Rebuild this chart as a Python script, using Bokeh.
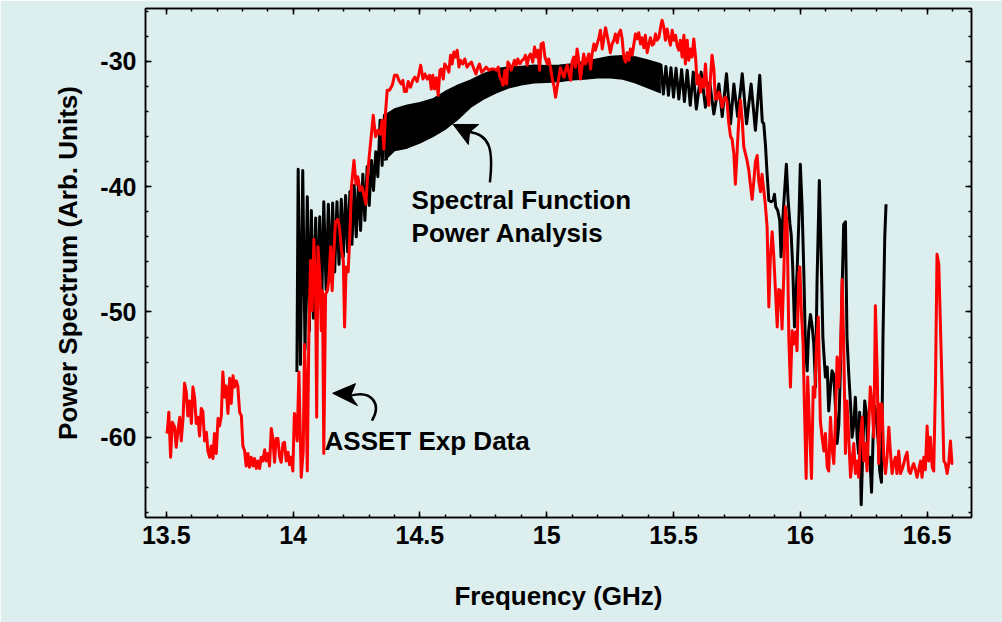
from bokeh.plotting import figure
from bokeh.models import LinearAxis, FixedTicker, Range1d
from bokeh.embed import file_html
from bokeh.resources import INLINE
from bokeh.core.properties import value

# ---------------- data ----------------
x_ticks = [13.5, 14.0, 14.5, 15.0, 15.5, 16.0, 16.5]
x_tick_labels = ["13.5", "14", "14.5", "15", "15.5", "16", "16.5"]
x_minor = [round(13.5 + 0.1 * i, 1) for i in range(32)]
y_ticks = [-60, -50, -40, -30]
y_tick_labels = ["-60", "-50", "-40", "-30"]
y_minor = list(range(-66, -25, 2))

# ASSET experimental data (red)
red_freq = [
    13.500, 13.504, 13.510, 13.517, 13.524, 13.533, 13.539, 13.546, 13.553, 13.559,
    13.566, 13.572, 13.579, 13.585, 13.592, 13.599, 13.605, 13.612, 13.618, 13.625,
    13.631, 13.638, 13.644, 13.651, 13.658, 13.664, 13.671, 13.677, 13.684, 13.690,
    13.697, 13.704, 13.710, 13.717, 13.723, 13.730, 13.736, 13.743, 13.750, 13.756,
    13.763, 13.769, 13.776, 13.782, 13.789, 13.796, 13.802, 13.809, 13.815, 13.822,
    13.828, 13.835, 13.842, 13.848, 13.855, 13.861, 13.868, 13.874, 13.881, 13.888,
    13.894, 13.901, 13.907, 13.914, 13.920, 13.927, 13.933, 13.940, 13.947, 13.953,
    13.960, 13.966, 13.973, 13.980, 13.986, 13.993, 13.999, 14.005, 14.011, 14.016,
    14.023, 14.032, 14.040, 14.045, 14.050, 14.056, 14.062, 14.069, 14.075, 14.082,
    14.089, 14.093, 14.098, 14.106, 14.111, 14.116, 14.121, 14.128, 14.135, 14.141,
    14.148, 14.154, 14.161, 14.167, 14.177, 14.184, 14.191, 14.198, 14.203, 14.209,
    14.217, 14.224, 14.230, 14.240, 14.248, 14.255, 14.263, 14.271, 14.279, 14.287,
    14.295, 14.305, 14.316, 14.325, 14.334, 14.343, 14.351, 14.358, 14.364, 14.371,
    14.380, 14.391, 14.400, 14.410, 14.417, 14.426, 14.433, 14.439, 14.447, 14.454,
    14.463, 14.472, 14.480, 14.489, 14.496, 14.503, 14.512, 14.520, 14.529, 14.538,
    14.545, 14.551, 14.558, 14.565, 14.572, 14.579, 14.585, 14.592, 14.598, 14.608,
    14.614, 14.621, 14.627, 14.634, 14.640, 14.647, 14.654, 14.660, 14.669, 14.677,
    14.686, 14.695, 14.703, 14.713, 14.721, 14.729, 14.735, 14.743, 14.752, 14.761,
    14.772, 14.781, 14.792, 14.802, 14.809, 14.815, 14.822, 14.828, 14.835, 14.842,
    14.847, 14.855, 14.860, 14.867, 14.873, 14.880, 14.886, 14.894, 14.903, 14.910,
    14.916, 14.923, 14.929, 14.936, 14.945, 14.952, 14.959, 14.965, 14.972, 14.978,
    14.986, 14.993, 15.002, 15.008, 15.015, 15.022, 15.028, 15.035, 15.041, 15.048,
    15.054, 15.061, 15.068, 15.074, 15.081, 15.087, 15.094, 15.100, 15.107, 15.113,
    15.120, 15.126, 15.133, 15.140, 15.146, 15.153, 15.159, 15.166, 15.173, 15.179,
    15.186, 15.192, 15.199, 15.205, 15.212, 15.219, 15.225, 15.232, 15.238, 15.245,
    15.251, 15.258, 15.265, 15.271, 15.278, 15.284, 15.291, 15.297, 15.304, 15.311,
    15.317, 15.324, 15.330, 15.337, 15.343, 15.350, 15.357, 15.363, 15.370, 15.376,
    15.383, 15.389, 15.396, 15.403, 15.409, 15.416, 15.422, 15.429, 15.435, 15.442,
    15.449, 15.455, 15.462, 15.468, 15.475, 15.481, 15.488, 15.495, 15.501, 15.508,
    15.514, 15.521, 15.527, 15.534, 15.541, 15.547, 15.554, 15.560, 15.567, 15.573,
    15.580, 15.587, 15.593, 15.600, 15.606, 15.613, 15.619, 15.626, 15.633, 15.639,
    15.646, 15.652, 15.659, 15.665, 15.672, 15.679, 15.685, 15.692, 15.698, 15.705,
    15.711, 15.718, 15.725, 15.731, 15.738, 15.744, 15.751, 15.757, 15.764, 15.771,
    15.777, 15.784, 15.790, 15.797, 15.803, 15.810, 15.817, 15.823, 15.830, 15.836,
    15.843, 15.849, 15.856, 15.862, 15.869, 15.876, 15.882, 15.889, 15.895, 15.902,
    15.909, 15.915, 15.922, 15.928, 15.935, 15.941, 15.948, 15.955, 15.961, 15.968,
    15.974, 15.981, 15.987, 15.994, 15.998, 16.004, 16.011, 16.016, 16.023, 16.029,
    16.037, 16.044, 16.051, 16.057, 16.064, 16.071, 16.079, 16.086, 16.093, 16.099,
    16.106, 16.112, 16.119, 16.125, 16.132, 16.138, 16.145, 16.152, 16.158, 16.165,
    16.171, 16.178, 16.184, 16.191, 16.198, 16.204, 16.211, 16.217, 16.224, 16.230,
    16.237, 16.244, 16.250, 16.257, 16.263, 16.270, 16.276, 16.283, 16.290, 16.296,
    16.303, 16.309, 16.316, 16.322, 16.329, 16.336, 16.342, 16.349, 16.355, 16.362,
    16.368, 16.375, 16.381, 16.388, 16.395, 16.401, 16.408, 16.414, 16.421, 16.428,
    16.434, 16.441, 16.447, 16.454, 16.460, 16.467, 16.474, 16.480, 16.487, 16.493,
    16.500, 16.506, 16.513, 16.520, 16.526, 16.533, 16.539, 16.546, 16.552, 16.559,
    16.566, 16.572, 16.579, 16.585, 16.592, 16.598, 16.602,
]
red_db = [
    -59.5, -59.6, -58.0, -61.6, -58.8, -59.2, -60.8, -59.5, -58.4, -60.3,
    -58.5, -55.7, -56.4, -58.3, -57.1, -58.9, -56.0, -56.9, -58.9, -58.4,
    -59.9, -57.7, -57.9, -60.3, -59.6, -61.1, -61.6, -60.7, -61.7, -59.7,
    -61.3, -58.5, -59.1, -58.3, -54.8, -56.8, -55.9, -58.1, -55.3, -57.3,
    -55.1, -56.0, -55.5, -55.9, -58.0, -58.3, -60.7, -61.1, -62.3, -61.3,
    -62.4, -61.6, -62.3, -61.7, -62.5, -61.9, -62.5, -61.6, -61.9, -61.0,
    -61.9, -61.3, -62.3, -59.3, -60.1, -62.0, -60.1, -60.1, -61.6, -62.0,
    -60.5, -60.4, -61.9, -61.2, -62.2, -61.6, -62.7, -58.1, -58.6, -60.3,
    -54.8, -63.2, -61.1, -52.6, -55.7, -62.7, -52.0, -45.9, -49.9, -44.2,
    -48.8, -58.4, -44.8, -47.2, -51.5, -48.3, -61.3, -48.6, -48.3, -47.5,
    -44.8, -48.3, -45.1, -42.8, -42.6, -43.5, -45.1, -45.9, -51.2, -46.4,
    -46.8, -43.8, -40.0, -37.9, -39.8, -39.2, -40.3, -40.0, -40.6, -41.4,
    -38.7, -36.6, -34.3, -36.0, -35.5, -35.8, -34.7, -37.0, -34.2, -32.3,
    -32.3, -31.9, -31.1, -31.1, -31.5, -31.8, -31.5, -32.4, -32.4, -31.6,
    -32.05, -31.5, -31.25, -31.6, -31.0, -30.3, -31.4, -31.0, -31.4, -31.1,
    -32.2, -31.1, -32.2, -31.3, -32.7, -30.7, -30.6, -31.4, -30.2, -30.5,
    -30.85, -29.5, -30.2, -29.25, -29.65, -29.1, -30.45, -29.9, -30.2, -29.8,
    -30.45, -30.2, -30.05, -30.6, -31.0, -30.45, -30.2, -30.85, -30.7, -30.45,
    -30.7, -30.6, -30.6, -30.7, -30.45, -31.25, -31.5, -31.9, -30.7, -31.8,
    -30.05, -30.3, -30.7, -30.3, -29.9, -30.3, -29.8, -30.2, -29.9, -29.8,
    -29.5, -30.3, -29.65, -29.4, -30.05, -28.85, -29.65, -29.1, -30.7, -28.6,
    -28.5, -29.65, -30.2, -29.8, -30.5, -31.4, -31.9, -32.85, -32.05, -31.25,
    -30.5, -30.9, -31.25, -30.7, -30.3, -30.9, -31.5, -30.05, -29.65, -30.45,
    -29.0, -29.9, -31.4, -30.3, -29.4, -30.2, -29.9, -29.4, -30.6, -29.4,
    -28.6, -29.1, -28.6, -28.2, -27.5, -29.0, -28.2, -27.3, -27.9, -28.6,
    -29.3, -28.6, -28.3, -27.8, -28.5, -27.8, -27.5, -28.1, -29.65, -30.05,
    -29.3, -29.9, -29.0, -29.5, -28.7, -27.8, -28.2, -27.7, -28.6, -28.1,
    -28.9, -27.9, -29.3, -28.6, -28.1, -28.7, -28.6, -27.8, -28.3, -28.1,
    -27.3, -26.7, -27.3, -28.3, -27.4, -28.1, -28.7, -27.5, -28.3, -27.9,
    -28.7, -29.1, -28.3, -29.65, -27.9, -30.2, -28.3, -29.9, -29.0, -29.65,
    -28.2, -29.65, -31.8, -31.1, -32.45, -31.4, -32.05, -30.2, -32.45, -33.5,
    -31.2, -29.5, -30.6, -33.0, -33.0, -32.45, -32.85, -33.65, -33.0, -32.85,
    -33.2, -34.95, -36.0, -36.2, -37.4, -39.8, -37.1, -34.8, -33.1, -34.7,
    -36.8, -37.4, -37.9, -38.7, -39.8, -41.0, -39.5, -38.0, -37.5, -39.5,
    -40.4, -39.0, -40.3, -41.4, -43.2, -49.6, -45.6, -43.6, -45.4, -48.3,
    -51.2, -48.2, -48.3, -51.35, -46.96, -41.6, -43.0, -52.3, -56.0, -51.5,
    -52.55, -51.6, -53.1, -46.96, -46.4, -49.9, -52.55, -57.35, -63.3, -55.2,
    -59.5, -63.3, -56.0, -56.8, -52.55, -50.4, -58.7, -60.0, -61.1, -59.7,
    -62.4, -62.7, -58.4, -60.8, -62.1, -58.95, -53.6, -56.0, -53.6, -47.4,
    -52.55, -61.3, -57.1, -60.0, -63.2, -61.9, -60.5, -62.9, -61.9, -63.2,
    -60.0, -58.4, -61.9, -60.5, -62.7, -58.95, -56.0, -57.35, -60.0, -49.5,
    -54.7, -62.1, -57.35, -57.35, -61.6, -62.9, -61.6, -59.2, -61.1, -62.9,
    -62.1, -61.6, -62.9, -61.1, -62.9, -62.6, -62.1, -61.6, -61.2, -62.7,
    -62.9, -62.4, -62.1, -62.6, -63.2, -62.6, -61.9, -63.2, -61.6, -62.6,
    -59.1, -61.9, -60.0, -62.4, -62.7, -55.75, -45.4, -46.2, -50.7, -56.0,
    -61.9, -62.1, -62.9, -62.1, -60.3, -62.1, -62.1,
]

# Spectral function power analysis (black): resolved oscillation, low side
blk_lo_freq = [
    14.015, 14.020, 14.029, 14.038, 14.047, 14.056, 14.064, 14.072, 14.080, 14.089,
    14.097, 14.105, 14.113, 14.121, 14.130, 14.139, 14.147, 14.156, 14.164, 14.173,
    14.181, 14.190, 14.198, 14.207, 14.215, 14.224, 14.232, 14.241, 14.249, 14.258,
    14.266, 14.275, 14.283, 14.292, 14.300, 14.309, 14.317, 14.326, 14.334, 14.343,
    14.351, 14.360, 14.368,
]
blk_lo_db = [
    -54.8, -38.6, -54.2, -38.7, -53.0, -40.8, -51.5, -41.9, -50.5, -42.5,
    -49.8, -42.4, -49.0, -41.2, -48.2, -41.4, -47.5, -41.3, -46.8, -41.2,
    -46.2, -41.0, -45.6, -40.7, -45.2, -40.4, -44.6, -39.9, -44.0, -39.5,
    -43.5, -39.0, -42.7, -38.4, -41.5, -37.9, -40.3, -37.2, -39.2, -34.7,
    -38.3, -34.3, -37.9,
]
# unresolved (dense) oscillation band: envelope
band_freq = [14.36, 14.40, 14.45, 14.50, 14.55, 14.60, 14.65, 14.70, 14.75, 14.80,
             14.85, 14.90, 14.95, 15.00, 15.05, 15.10, 15.15, 15.20, 15.25, 15.30,
             15.35, 15.40, 15.45]
band_upper = [-34.3, -33.8, -33.5, -33.3, -33.0, -32.4, -31.9, -31.5, -31.0, -30.6,
              -30.45, -30.4, -30.3, -30.35, -30.3, -30.2, -30.0, -29.8, -29.6, -29.55,
              -29.65, -29.9, -30.2]
band_lower = [-37.9, -37.1, -36.9, -36.5, -36.0, -35.4, -34.6, -33.65, -33.0, -32.5,
              -32.1, -31.85, -31.7, -31.65, -31.6, -31.45, -31.4, -31.3, -31.3, -31.4,
              -31.7, -32.1, -32.5]
# resolved oscillation, high side
blk_hi_freq = [
    15.450, 15.460, 15.470, 15.480, 15.490, 15.500, 15.510, 15.521, 15.532, 15.543,
    15.554, 15.566, 15.578, 15.590, 15.609, 15.626, 15.643, 15.659, 15.679, 15.692,
    15.709, 15.725, 15.738, 15.753, 15.771, 15.788, 15.806, 15.823, 15.840, 15.850,
    15.856, 15.863, 15.869, 15.876, 15.885, 15.893, 15.898, 15.903, 15.911, 15.919,
    15.924, 15.932, 15.945, 15.952, 15.959, 15.964, 15.970, 15.977, 15.987, 15.995,
    16.000, 16.007, 16.014, 16.020, 16.027, 16.033, 16.040, 16.047, 16.053, 16.060,
    16.066, 16.075, 16.082, 16.089, 16.093, 16.099, 16.106, 16.112, 16.119, 16.125,
    16.132, 16.138, 16.145, 16.152, 16.158, 16.165, 16.171, 16.178, 16.184, 16.191,
    16.198, 16.204, 16.211, 16.217, 16.224, 16.230, 16.234, 16.240, 16.248, 16.254,
    16.261, 16.267, 16.274, 16.281, 16.287, 16.293, 16.300, 16.307, 16.313, 16.320,
    16.326, 16.333, 16.338,
]
blk_hi_db = [
    -30.2, -32.6, -30.4, -32.7, -30.5, -32.85, -30.55, -33.0, -30.65, -33.2,
    -30.7, -33.5, -30.85, -33.8, -30.85, -33.65, -31.65, -34.2, -31.8, -34.4,
    -30.98, -34.98, -31.8, -34.4, -30.98, -34.98, -31.8, -35.5, -31.1, -34.8,
    -34.98, -36.8, -38.97, -41.1, -41.2, -41.1, -40.6, -41.6, -41.9, -42.7,
    -45.6, -42.2, -38.2, -41.1, -42.97, -43.8, -46.4, -51.2, -46.96, -42.2,
    -38.2, -41.6, -46.96, -52.55, -54.7, -51.5, -50.2, -51.2, -52.55, -56.0,
    -47.5, -39.5, -45.4, -52.0, -53.35, -55.2, -54.4, -57.9, -56.0, -54.7,
    -55.0, -57.35, -60.5, -58.95, -54.7, -48.0, -43.0, -42.8, -52.0, -54.95,
    -57.35, -60.0, -58.95, -56.8, -60.0, -61.3, -58.0, -65.4, -60.0, -57.1,
    -58.15, -62.1, -61.6, -64.4, -60.0, -57.5, -58.4, -60.3, -62.7, -63.6,
    -52.0, -44.0, -41.4,
]

# annotations
label_spectral = ["Spectral Function", "Power Analysis"]
label_asset = "ASSET Exp Data"

# ---------------- figure ----------------
BG = "#ddeeee"
FONT = "Liberation Sans"

p = figure(width=1002, height=622, output_backend="svg", toolbar_location=None,
           x_range=Range1d(13.418, 16.675), y_range=Range1d(-66.41, -25.77),
           min_border_left=145, min_border_right=31, min_border_top=8,
           min_border_bottom=105, background_fill_color=BG, border_fill_color=BG)
p.grid.visible = False
p.outline_line_color = "black"
p.outline_line_width = 1.5

xb = p.below[0]
yl = p.left[0]
xt = LinearAxis()
yr = LinearAxis()
p.add_layout(xt, "above")
p.add_layout(yr, "right")

for ax in [xb, xt]:
    ax.ticker = FixedTicker(ticks=x_ticks, minor_ticks=x_minor)
for ax in [yl, yr]:
    ax.ticker = FixedTicker(ticks=y_ticks, minor_ticks=y_minor)
xb.major_label_overrides = {t: l for t, l in zip(x_ticks, x_tick_labels)}
yl.major_label_overrides = {t: l for t, l in zip(y_ticks, y_tick_labels)}

for ax in [xb, xt, yl, yr]:
    ax.axis_line_width = 1.5
    ax.axis_line_color = "black"
    ax.major_tick_in = 6
    ax.major_tick_out = 0
    ax.minor_tick_in = 3
    ax.minor_tick_out = 0
    ax.major_tick_line_width = 1.5
    ax.minor_tick_line_width = 1.5
    ax.major_tick_line_color = "black"
    ax.minor_tick_line_color = "black"
    ax.major_label_text_font = FONT
    ax.major_label_text_font_style = "bold"
    ax.major_label_text_font_size = "25px"
    ax.major_label_text_color = "black"

# mirrored axes: ticks only
for ax in [xt, yr]:
    ax.major_label_text_color = None
    ax.major_label_text_font_size = "1px"
    ax.major_label_standoff = 0

xb.major_label_standoff = 8
xb.axis_label = "Frequency (GHz)"
xb.axis_label_text_font = FONT
xb.axis_label_text_font_style = "bold"
xb.axis_label_text_font_size = "26px"
xb.axis_label_text_color = "black"
xb.axis_label_standoff = 34

yl.major_label_standoff = 9
yl.axis_label = "Power Spectrum (Arb. Units)"
yl.axis_label_text_font = FONT
yl.axis_label_text_font_style = "bold"
yl.axis_label_text_font_size = "26px"
yl.axis_label_text_color = "black"
yl.axis_label_standoff = 14

# black spectral-function curve
p.varea(x=band_freq, y1=band_lower, y2=band_upper, fill_color="black")
p.line(band_freq, band_upper, line_color="black", line_width=1.5)
p.line(band_freq, band_lower, line_color="black", line_width=1.5)
p.line(blk_lo_freq, blk_lo_db, line_color="black", line_width=3, line_join="round")
p.line(blk_hi_freq, blk_hi_db, line_color="black", line_width=3, line_join="round")

# red experimental curve
p.line(red_freq, red_db, line_color="#ff0000", line_width=3, line_join="round")

# annotation arrows
p.bezier(x0=[14.696, 14.227], y0=[-35.63, -56.68],
         x1=[14.776, 14.311], y1=[-39.66, -58.67],
         cx0=[14.778, 14.313], cy0=[-35.83, -56.20],
         cx1=[14.790, 14.349], cy1=[-37.11, -57.40],
         line_color="black", line_width=2.5)
p.patch([14.631, 14.732, 14.696, 14.691], [-35.03, -35.03, -35.63, -36.63],
        fill_color="black", line_color="black", line_width=1)
p.patch([14.156, 14.246, 14.227, 14.254], [-56.49, -55.72, -56.68, -57.48],
        fill_color="black", line_color="black", line_width=1)

p.text(x=[14.467, 14.467], y=[-41.05, -43.71], text=label_spectral,
       text_font=value(FONT), text_font_style="bold", text_font_size="26px",
       text_color="black", text_align="left", text_baseline="alphabetic")
p.text(x=[14.124], y=[-60.33], text=[label_asset],
       text_font=value(FONT), text_font_style="bold", text_font_size="26px",
       text_color="black", text_align="left", text_baseline="alphabetic")

open("out.html", "w").write(file_html(p, INLINE))
